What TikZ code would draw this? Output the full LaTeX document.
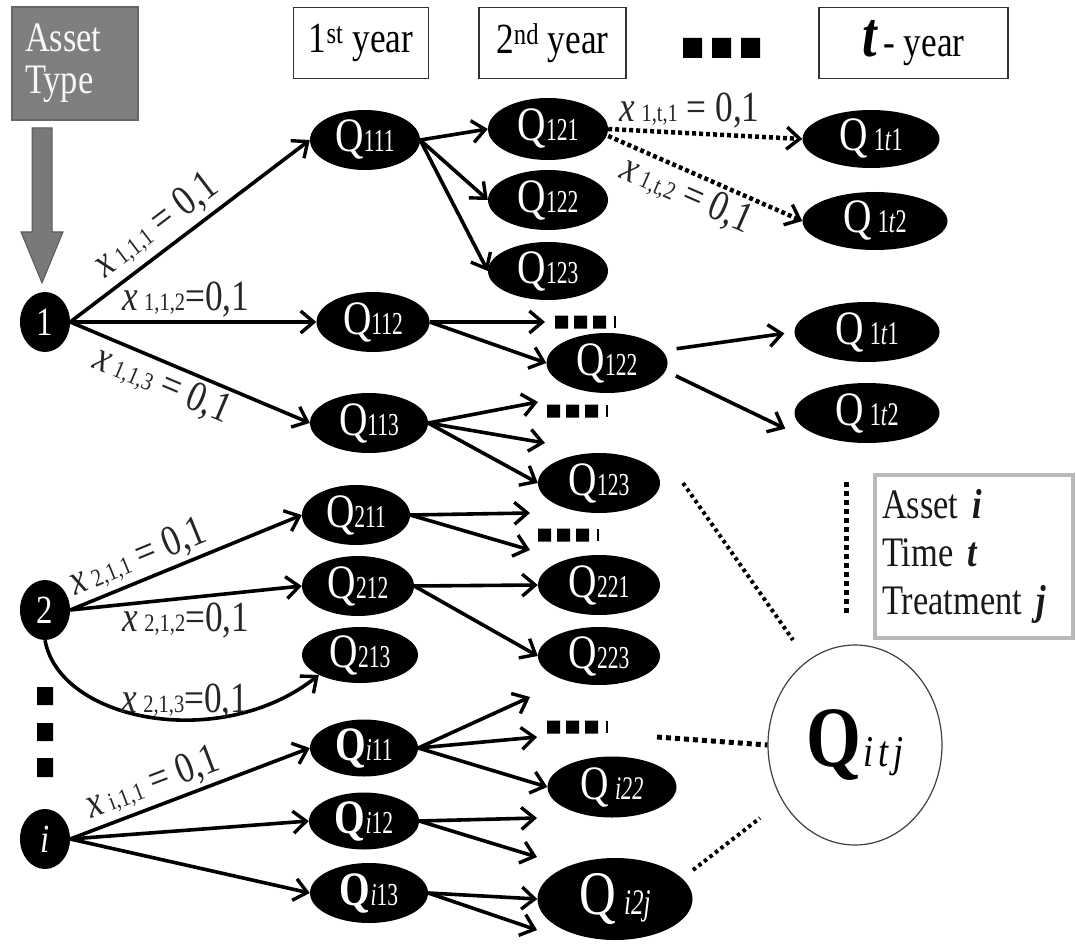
\documentclass[tikz,border=0pt]{standalone}
\usepackage{fontspec}
\setmainfont{Liberation Serif}[FakeStretch=0.82]
\usetikzlibrary{shapes.geometric,arrows.meta}

\newcommand{\sizeat}[1]{\fontsize{#1}{#1}\selectfont}
% state labels: a large Q followed by a narrow index set on the baseline
\newcommand{\qlab}[1]{{\sizeat{48}Q}\scalebox{0.82}[1]{\sizeat{32}#1}}
\newcommand{\qlabb}[1]{{\sizeat{48}\bfseries Q}\scalebox{0.82}[1]{\sizeat{32}#1}}
\newcommand{\qlabt}[1]{{\sizeat{48}Q}\hspace{6pt}\scalebox{0.82}[1]{\sizeat{33}#1}}
% decision variable labels
\newcommand{\xlab}[2]{\textit{x}\hspace{6pt}{\sizeat{25}#1}#2}

\definecolor{assetgray}{HTML}{7F7F7F}

\begin{document}
\begin{tikzpicture}[x=1pt,y=-1pt,
  qnode/.style={ellipse, fill=black, text=white, inner sep=0pt, minimum width=110pt, minimum height=60pt},
  rootnode/.style={ellipse, fill=black, text=white, inner sep=0pt, minimum width=50pt, minimum height=60pt, font=\sizeat{40}},
  yearbox/.style={draw=black!80, line width=1.4pt, minimum height=71pt, inner sep=0pt, font=\sizeat{43}},
  arr/.style={line width=3.6pt, -{Straight Barb[length=13pt,width=22pt,line width=3.4pt]}},
  darr/.style={line width=4.5pt, dash pattern=on 4pt off 3pt, -{Straight Barb[length=13pt,width=22pt,line width=3.4pt]}},
  lab/.style={text=black!85, inner sep=3pt, font=\sizeat{43}},
  sqdots/.style={line width=5pt, dash pattern=on 5pt off 4pt},
  sqdotsthin/.style={line width=4pt, dash pattern=on 3.5pt off 3.5pt},
  squaredots/.pic={
    \fill (0,-6.5) rectangle (13,6.5) (19,-6.5) rectangle (32,6.5) (38,-6.5) rectangle (51,6.5);
    \fill (59,-6) rectangle (61,6);
  }]

\fill[white] (0,0) rectangle (1076,944);
\useasboundingbox (0,0) rectangle (1076,944);

% ---- header row ----
\node[draw=black!60, fill=assetgray, line width=1.4pt, text=white!94!gray,
      minimum width=126pt, minimum height=113pt, text width=100pt, inner xsep=13pt,
      align=left, font=\sizeat{42}] (asset) at (75,63.5) {Asset\\[0pt]Type};
\filldraw[fill=gray!95!black, draw=gray!70!black, line width=1pt]
  (32,128) -- (52,128) -- (52,232) -- (63,232) -- (42,283) -- (21,232) -- (32,232) -- cycle;

\node[yearbox, minimum width=135pt] (y1) at (361,43) {1\textsuperscript{st} year};
\node[yearbox, minimum width=147pt] (y2) at (552.5,43) {2\textsuperscript{nd} year};
\node[yearbox, minimum width=189pt] (yt) at (913.5,43)
  {{\sizeat{64}\bfseries\itshape t}\hspace{6pt}- year};
\fill (683,38) rectangle (702,58) (712,38) rectangle (731,58) (741,38) rectangle (760,58);

% ---- asset roots ----
\node[rootnode] (n1) at (45,322) {1};
\node[rootnode] (n2) at (45,610) {2};
\node[rootnode] (ni) at (45,839) {\itshape i};
\fill (37,687) rectangle (53,705) (37,723) rectangle (53,741) (37,758) rectangle (53,777);

% ---- first year ----
\node[qnode] (q111) at (365,140) {\qlab{111}};
\node[qnode, minimum width=113pt] (q112) at (373,322) {\qlab{112}};
\node[qnode, minimum width=118pt] (q113) at (369,423) {\qlab{113}};
\node[qnode, minimum width=108pt] (q211) at (356,515) {\qlab{211}};
\node[qnode, minimum width=112pt] (q212) at (358,586) {\qlab{212}};
\node[qnode, minimum width=116pt, minimum height=56pt] (q213) at (360,655) {\qlab{213}};
\node[qnode, minimum width=108pt, minimum height=57pt] (qi11) at (364,748) {\qlabb{\textit{i}11}};
\node[qnode, minimum width=110pt, minimum height=57pt] (qi12) at (364,821) {\qlabb{\textit{i}12}};
\node[qnode, minimum width=118pt] (qi13) at (369,893) {\qlabb{\textit{i}13}};

% ---- second year ----
\node[qnode, minimum width=120pt, minimum height=62pt] (q121) at (548,129) {\qlab{121}};
\node[qnode, minimum width=120pt] (q122a) at (548,200) {\qlab{122}};
\node[qnode, minimum width=120pt, minimum height=58pt] (q123a) at (548,271) {\qlab{123}};
\node[qnode, minimum width=121pt] (q122b) at (607,363) {\qlab{122}};
\node[qnode, minimum width=122pt] (q123b) at (599,483) {\qlab{123}};
\node[qnode, minimum width=122pt] (q221) at (599,585) {\qlab{221}};
\node[qnode, minimum width=122pt, minimum height=58pt] (q223) at (599,656) {\qlab{223}};
\node[qnode, minimum width=129pt, minimum height=61pt] (qi22) at (612,787)
  {\qlabt{\itshape i22}};
\node[qnode, minimum width=155pt, minimum height=82pt] (qi2j) at (615,899)
  {{\sizeat{62}Q}\hspace{8pt}\scalebox{0.85}[1]{\sizeat{36}\itshape i2j}};

% ---- t-th year ----
\node[qnode, minimum width=137pt, minimum height=58pt] (q1t1a) at (871,139) {\qlabt{1\textit{t}1}};
\node[qnode, minimum width=145pt, minimum height=58pt] (q1t2a) at (875,221) {\qlabt{1\textit{t}2}};
\node[qnode, minimum width=145pt] (q1t1b) at (867,332) {\qlabt{1\textit{t}1}};
\node[qnode, minimum width=145pt] (q1t2b) at (867,413) {\qlabt{1\textit{t}2}};

% ---- generic state and legend ----
\node[ellipse, draw=black!75, line width=1.2pt, minimum width=174pt, minimum height=200pt,
      inner sep=0pt] (qitj) at (855,745)
  {{\sizeat{86}\bfseries Q}\hspace{2pt}{\sizeat{44}\itshape i\hspace{5pt}t\hspace{5pt}j}};
\node[draw=gray!55, line width=4pt, fill=white, minimum width=198pt, minimum height=163pt,
      text width=184pt, align=left, font=\sizeat{42}, text=black!90] (legend) at (974,556.5)
  {Asset \textbf{\textit{i}}\\[6pt]Time \textbf{\textit{t}}\\[6pt]Treatment \textbf{\textit{j}}};

% ---- open ends of the branches ----
\coordinate (e112) at (545,322);
\coordinate (e113a) at (538,402);
\coordinate (e113b) at (545,443);
\coordinate (e211a) at (530,513);
\coordinate (e211b) at (530,550);
\coordinate (ei11a) at (530,697);
\coordinate (ei11b) at (537,737);
\coordinate (ei12a) at (537,818);
\coordinate (ei12b) at (537,857);
\coordinate (ei13b) at (537,930);
\pic at (555,322) {squaredots};
\pic at (547,411) {squaredots};
\pic at (538,535) {squaredots};
\pic at (547,727) {squaredots};

% ---- decisions out of the roots ----
\draw[arr] (n1.east) -- node[lab, sloped, above=2pt, pos=0.42] {\xlab{1,1,1}{ = 0,1}} (q111.west);
\draw[arr] (n1.east) -- node[lab, above, pos=0.47] {\xlab{1,1,2}{=0,1}} (q112.west);
\draw[arr] (n1.east) -- node[lab, sloped, below, pos=0.42] {\xlab{1,1,3}{ = 0,1}} (q113.west);
\draw[arr] (n2.east) -- node[lab, sloped, above, pos=0.33] {\xlab{2,1,1}{ = 0,1}} (q211.west);
\draw[arr] (n2.east) -- node[lab, below, pos=0.5] {\xlab{2,1,2}{=0,1}} (q212.west);
\draw[arr] (n2.south) .. controls (60,722) and (222,752) .. node[lab, above=-4pt, pos=0.6] {\xlab{2,1,3}{=0,1}} (q213.south west);
\draw[arr] (ni.east) -- node[lab, sloped, above, pos=0.38] {\xlab{i,1,1}{ = 0,1}} (qi11.west);
\draw[arr] (ni.east) -- (qi12.west);
\draw[arr] (ni.east) -- (qi13.west);

% ---- first year to second year ----
\draw[arr] (q111.east) -- (q121.west);
\draw[arr] (q111.east) -- (q122a.west);
\draw[arr] (q111.east) -- (q123a.west);
\draw[arr] (q112.east) -- (e112);
\draw[arr] (q112.east) -- (q122b.west);
\draw[arr] (q113.east) -- (e113a);
\draw[arr] (q113.east) -- (e113b);
\draw[arr] (q113.east) -- (q123b.west);
\draw[arr] (q211.east) -- (e211a);
\draw[arr] (q211.east) -- (e211b);
\draw[arr] (q212.east) -- (q221.west);
\draw[arr] (q212.east) -- (q223.west);
\draw[arr] (qi11.east) -- (ei11a);
\draw[arr] (qi11.east) -- (ei11b);
\draw[arr] (qi11.east) -- (qi22.west);
\draw[arr] (qi12.east) -- (ei12a);
\draw[arr] (qi12.east) -- (ei12b);
\draw[arr] (qi13.east) -- (qi2j.west);
\draw[arr] (qi13.east) -- (ei13b);

% ---- towards year t ----
\draw[darr] (q121.east) -- node[lab, above, pos=0.42] {\xlab{1,t,1}{ = 0,1}} (q1t1a.west);
\draw[darr] ([yshift=-7pt]q121.east) -- node[lab, sloped, below, pos=0.45] {\xlab{1,t,2}{ = 0,1}} (q1t2a.west);
\draw[arr, shorten <=9pt, shorten >=10pt] ([yshift=13pt]q122b.east) -- (q1t1b.west);
\draw[arr, shorten <=9pt, shorten >=10pt] ([yshift=-9pt]q122b.east) -- ([yshift=-20pt]q1t2b.west);

% ---- dotted links to the generic state ----
\coordinate (d1a) at (683,483);
\coordinate (d1b) at (793,640);
\coordinate (d2a) at (657,737);
\coordinate (d3a) at (693,870);
\coordinate (d3b) at (760,818);
\coordinate (d4a) at (846,482);
\coordinate (d4b) at (846,613);
\draw[sqdotsthin] (d1a) -- (d1b);
\draw[sqdots] (d2a) -- (qitj.west);
\draw[sqdotsthin] (d3a) -- (d3b);
\draw[sqdots] (d4a) -- (d4b);
\end{tikzpicture}
\end{document}
